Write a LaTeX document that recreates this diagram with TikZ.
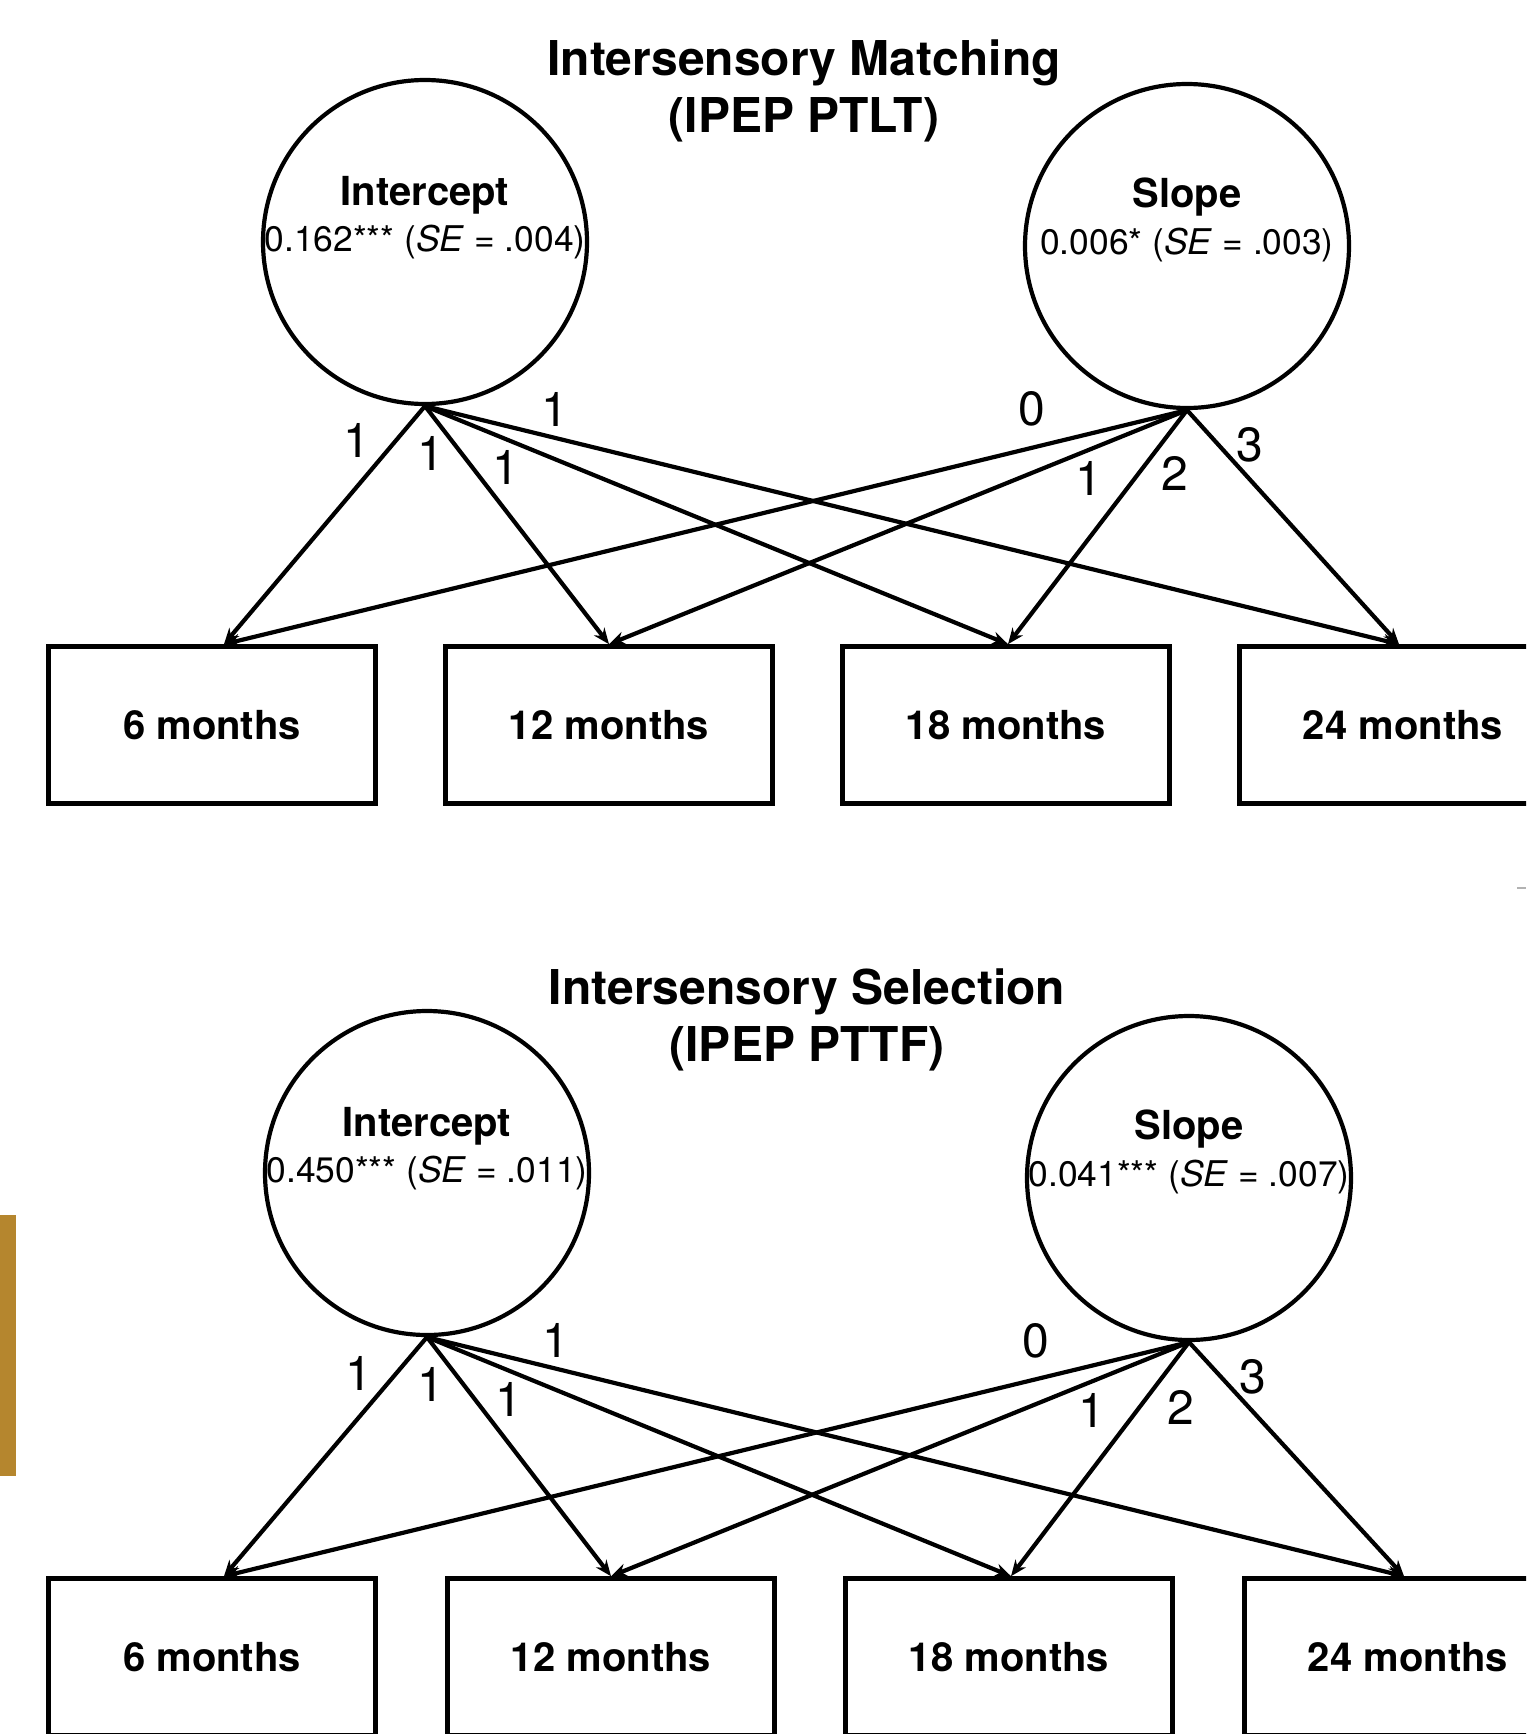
\documentclass[tikz,border=0pt]{standalone}
\usepackage{fontspec}
\setmainfont{TeX Gyre Heros}
\usetikzlibrary{arrows.meta}
\definecolor{goldbar}{RGB}{181,134,46}
\begin{document}
\begin{tikzpicture}[x=0.5pt,y=-0.5pt,
  lat/.style={circle,draw,line width=2.1pt,minimum size=162pt,inner sep=0pt},
  obs/.style={rectangle,draw,line width=2.3pt,minimum width=163.5pt,minimum height=78.5pt,inner sep=0pt,font=\fontsize{20}{24}\selectfont\bfseries},
  ttl/.style={font=\fontsize{24}{28.75}\selectfont\bfseries,align=center},
  lname/.style={font=\fontsize{20}{24}\selectfont\bfseries,inner sep=0pt},
  lval/.style={font=\fontsize{17.7}{21}\selectfont,inner sep=0pt},
  ld/.style={font=\fontsize{24}{28}\selectfont,inner sep=0pt},
  arr/.style={line width=2.1pt,-{Stealth[length=8pt,width=6.5pt]}}]
\useasboundingbox (0,0) rectangle (1526,1734);
\fill[white] (0,0) rectangle (1526,1734);
\clip (0,0) rectangle (1526,1734);

% ---------- top panel ----------
\node[ttl] (t1) at (804,91) {Intersensory Matching\\(IPEP PTLT)};
\node[lat] (i1) at (425,242) {};
\node[lname] (i1n) at (425,195) {Intercept};
\node[lval] (i1v) at (425,242) {0.162*** (\textit{SE} = .004)};
\node[lat] (s1) at (1187,246) {};
\node[lname] (s1n) at (1187,197) {Slope};
\node[lval] (s1v) at (1187,245) {0.006* (\textit{SE} = .003)};
\node[obs] (a1) at (212,725) {6 months};
\node[obs] (b1) at (609,725) {12 months};
\node[obs] (c1) at (1006,725) {18 months};
\node[obs] (d1) at (1403,725) {24 months};

\draw[arr] (i1.south) -- ([xshift=6pt]a1.north);
\draw[arr] (i1.south) -- (b1.north);
\draw[arr] (i1.south) -- ([xshift=1pt]c1.north);
\draw[arr] (i1.south) -- ([xshift=-2pt]d1.north);
\draw[arr] (s1.south) -- ([xshift=6pt]a1.north);
\draw[arr] (s1.south) -- (b1.north);
\draw[arr] (s1.south) -- ([xshift=1pt]c1.north);
\draw[arr] (s1.south) -- ([xshift=-2pt]d1.north);

\node[ld] (l1a) at (357,440) {1};
\node[ld] (l1b) at (431,453) {1};
\node[ld] (l1c) at (506,467) {1};
\node[ld] (l1d) at (555,409) {1};
\node[ld] (l1e) at (1032,409) {0};
\node[ld] (l1f) at (1089,478) {1};
\node[ld] (l1g) at (1175,473) {2};
\node[ld] (l1h) at (1250,445) {3};

% ---------- bottom panel ----------
\node[ttl] (t2) at (807,1020) {Intersensory Selection\\(IPEP PTTF)};
\node[lat] (i2) at (427,1173) {};
\node[lname] (i2n) at (427,1126) {Intercept};
\node[lval] (i2v) at (427,1173) {0.450*** (\textit{SE} = .011)};
\node[lat] (s2) at (1189,1178) {};
\node[lname] (s2n) at (1189,1129) {Slope};
\node[lval] (s2v) at (1189,1177) {0.041*** (\textit{SE} = .007)};
\node[obs] (a2) at (212,1657) {6 months};
\node[obs] (b2) at (611,1657) {12 months};
\node[obs] (c2) at (1009,1657) {18 months};
\node[obs] (d2) at (1408,1657) {24 months};

\draw[arr] (i2.south) -- ([xshift=6pt]a2.north);
\draw[arr] (i2.south) -- (b2.north);
\draw[arr] (i2.south) -- ([xshift=1pt]c2.north);
\draw[arr] (i2.south) -- ([xshift=-2pt]d2.north);
\draw[arr] (s2.south) -- ([xshift=6pt]a2.north);
\draw[arr] (s2.south) -- (b2.north);
\draw[arr] (s2.south) -- ([xshift=1pt]c2.north);
\draw[arr] (s2.south) -- ([xshift=-2pt]d2.north);

\node[ld] (l2a) at (359,1373) {1};
\node[ld] (l2b) at (431,1384) {1};
\node[ld] (l2c) at (509,1399) {1};
\node[ld] (l2d) at (556,1340) {1};
\node[ld] (l2e) at (1036,1341) {0};
\node[ld] (l2f) at (1092,1410) {1};
\node[ld] (l2g) at (1181,1407) {2};
\node[ld] (l2h) at (1253,1377) {3};

% ---------- page marks ----------
\fill[goldbar] (0,1215) rectangle (16,1476);
\draw[black!30, line width=0.8pt] (1517,888) -- (1526,888);
\end{tikzpicture}
\end{document}
